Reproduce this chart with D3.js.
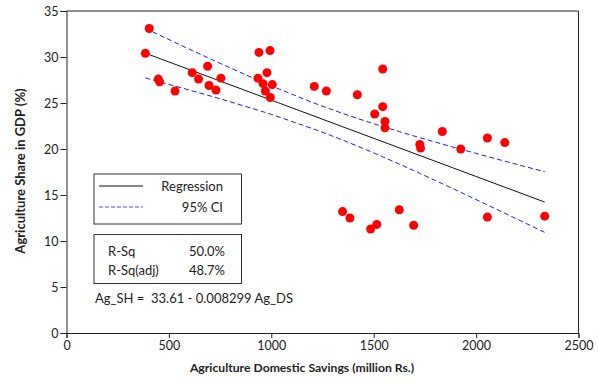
<!DOCTYPE html>
<html>
<head>
<meta charset="utf-8">
<script src="https://cdn.jsdelivr.net/npm/d3@7"></script>
<style>
  body { margin: 0; background: #fff; }
  text { font-family: Lato, "Open Sans", sans-serif; fill: #222; }
</style>
</head>
<body>
<script>
// savings (million Rs.) vs agriculture share in GDP (%)
var agDS = [404, 385, 448, 455, 530, 614, 645, 689, 696, 730, 754,
            940, 994, 935, 979, 960, 1005, 971, 995, 1210, 1269,
            1420, 1544, 1544, 1505, 1555, 1555, 1835, 1725, 1729, 1925, 2055, 2140,
            1348, 1384, 1485, 1515, 1625, 1695, 2055, 2335];
var agSH = [33.1, 30.4, 27.6, 27.3, 26.3, 28.3, 27.6, 29.0, 26.9, 26.4, 27.7,
            30.5, 30.7, 27.7, 28.3, 27.1, 27.0, 26.3, 25.6, 26.8, 26.3,
            25.9, 28.7, 24.6, 23.8, 23.0, 22.3, 21.9, 20.5, 20.1, 20.0, 21.2, 20.7,
            13.2, 12.5, 11.3, 11.8, 13.4, 11.7, 12.6, 12.7];

var xTicks = [0, 500, 1000, 1500, 2000, 2500];
var yTicks = [0, 5, 10, 15, 20, 25, 30, 35];

// fit shown on the chart
var b0 = 33.61, b1 = -0.008299;
var tCrit = 2.023;
var legendRows = ["Regression", "95% CI"];
var statLabels = ["R-Sq", "R-Sq(adj)"];
var statValues = ["50.0%", "48.7%"];
var equation = "Ag_SH =  33.61 - 0.008299 Ag_DS";

var W = 598, H = 380;
var pL = 66.5, pR = 578.5, pT = 11, pB = 333;

var svg = d3.select("body").append("svg")
    .attr("width", W).attr("height", H);

var x = d3.scaleLinear().domain([0, 2500]).range([pL, pR]);
var y = d3.scaleLinear().domain([0, 35]).range([pB, pT]);

// frame top/right
svg.append("path")
    .attr("d", "M" + pL + "," + pT + "H" + pR + "V" + pB)
    .attr("fill", "none").attr("stroke", "#222").attr("stroke-width", 1);

var gx = svg.append("g").attr("transform", "translate(0," + pB + ")")
    .call(d3.axisBottom(x).tickValues(xTicks).tickSize(5).tickPadding(3).tickFormat(d3.format("d")));
var gy = svg.append("g").attr("transform", "translate(" + pL + ",0)")
    .call(d3.axisLeft(y).tickValues(yTicks).tickSize(6).tickPadding(2).tickFormat(d3.format("d")));
[gx, gy].forEach(function(g) {
    g.selectAll("path,line").attr("stroke", "#222");
    g.selectAll("text").style("font-size", "12.5px").style("font-family", "Lato").attr("fill", "#222");
});

// CI band from the data
var n = agDS.length;
var xbar = d3.mean(agDS);
var sxx = d3.sum(agDS, function(v) { return (v - xbar) * (v - xbar); });
var sse = d3.sum(agDS, function(v, i) { var r = agSH[i] - (b0 + b1 * v); return r * r; });
var s = Math.sqrt(sse / (n - 2));
var xs = agDS.slice().sort(d3.ascending);
function half(v) { return tCrit * s * Math.sqrt(1 / n + (v - xbar) * (v - xbar) / sxx); }

var line = d3.line().x(function(d) { return x(d[0]); }).y(function(d) { return y(d[1]); });

svg.append("path")
    .datum(xs.map(function(v) { return [v, b0 + b1 * v + half(v)]; }))
    .attr("d", line).attr("fill", "none").attr("stroke", "#1a1aff")
    .attr("stroke-width", 1).attr("stroke-dasharray", "5,3");
svg.append("path")
    .datum(xs.map(function(v) { return [v, b0 + b1 * v - half(v)]; }))
    .attr("d", line).attr("fill", "none").attr("stroke", "#1a1aff")
    .attr("stroke-width", 1).attr("stroke-dasharray", "5,3");
svg.append("path")
    .datum([d3.min(xs), d3.max(xs)].map(function(v) { return [v, b0 + b1 * v]; }))
    .attr("d", line).attr("fill", "none").attr("stroke", "#111").attr("stroke-width", 1);

svg.selectAll("circle.pt").data(agDS).enter().append("circle")
    .attr("class", "pt")
    .attr("cx", function(d) { return x(d); })
    .attr("cy", function(d, i) { return y(agSH[i]); })
    .attr("r", 4.5).attr("fill", "#ff0000");

// legend box
svg.append("rect").attr("x", 94).attr("y", 174).attr("width", 147.5).attr("height", 50)
    .attr("fill", "#fff").attr("stroke", "#333");
legendRows.forEach(function(t, i) {
    var yy = 186 + i * 21;
    svg.append("line").attr("x1", 99).attr("x2", 143).attr("y1", yy).attr("y2", yy)
        .attr("stroke", i ? "#4d4dff" : "#111").attr("stroke-width", 1)
        .attr("stroke-dasharray", i ? "4,2" : null);
    svg.append("text").attr("x", 223).attr("y", yy + 4.5).attr("text-anchor", "end")
        .style("font-size", "13px").text(t);
});

// stats box
svg.append("rect").attr("x", 94).attr("y", 234.5).attr("width", 147.5).attr("height", 49)
    .attr("fill", "#fff").attr("stroke", "#333");
statLabels.forEach(function(t, i) {
    var yy = 251 + i * 19;
    svg.append("text").attr("x", 108).attr("y", yy + 4.5).style("font-size", "13px").text(t);
    svg.append("text").attr("x", 225).attr("y", yy + 4.5).attr("text-anchor", "end")
        .style("font-size", "13px").text(statValues[i]);
});
svg.append("text").attr("x", 95).attr("y", 302.5).style("font-size", "13px")
    .style("white-space", "pre").text(equation);

svg.append("text").attr("x", 302).attr("y", 372).attr("text-anchor", "middle")
    .style("font-size", "12.2px").style("font-weight", "bold")
    .text("Agriculture Domestic Savings (million Rs.)");
svg.append("text").attr("transform", "translate(25,171) rotate(-90)")
    .attr("text-anchor", "middle")
    .style("font-size", "13px").style("font-weight", "bold")
    .text("Agriculture Share in GDP (%)");
</script>
</body>
</html>
